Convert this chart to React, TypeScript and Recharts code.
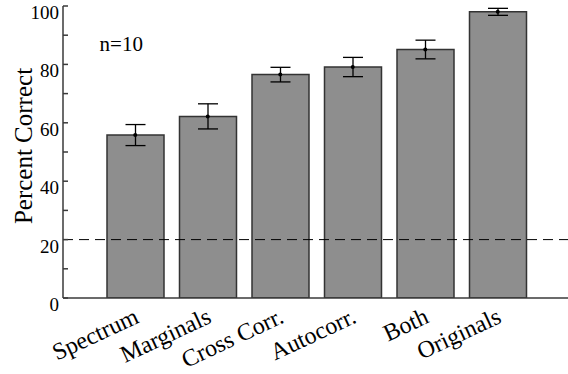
import React from 'react';
import { ComposedChart, Bar, XAxis, YAxis, ErrorBar, ReferenceLine, ReferenceDot, Line, Label } from 'recharts';

const categories = ['Spectrum', 'Marginals', 'Cross Corr.', 'Autocorr.', 'Both', 'Originals'];
const percentCorrect = [55.8, 62.2, 76.5, 79.1, 85.1, 98.0];
const stdError = [3.6, 4.3, 2.5, 3.3, 3.2, 1.2];
const yTicks = [0, 10, 20, 30, 40, 50, 60, 70, 80, 90, 100];
const yLabelEvery = 20;
const chanceLevel = 20;
const sampleNote = 'n=10';
const yTitle = 'Percent Correct';

const data = categories.map((name, i) => ({ name, value: percentCorrect[i], err: stdError[i] }));

const FONT = 'Liberation Serif';
const AXIS = '#3a3a3a';

const LeftTick = (props: any) => {
  const { x, y, payload } = props;
  const v = payload.value;
  return (
    <g>
      <line x1={x} x2={x + 5} y1={y} y2={y} stroke={AXIS} strokeWidth={1.5} />
      {v % yLabelEvery === 0 && (
        <text x={x - 4} y={y + 13} textAnchor="end" fontFamily={FONT} fontSize={19} fill="#000">
          {v}
        </text>
      )}
    </g>
  );
};

const RightTick = (props: any) => {
  const { x, y } = props;
  return <line x1={x - 5} x2={x} y1={y} y2={y} stroke={AXIS} strokeWidth={1.5} />;
};

const TopTick = (props: any) => {
  const { x, y } = props;
  return <line x1={x} x2={x} y1={y} y2={y + 5} stroke={AXIS} strokeWidth={1.5} />;
};

const BottomTick = (props: any) => {
  const { x, y, payload } = props;
  const ax = x + 5;
  const ay = y + 24;
  return (
    <text
      x={ax}
      y={ay}
      textAnchor="end"
      fontFamily={FONT}
      fontSize={24}
      fill="#000"
      transform={`rotate(-25 ${ax} ${ay})`}
    >
      {payload.value}
    </text>
  );
};

const YTitle = (props: any) => {
  const { viewBox } = props;
  const cx = 24;
  const cy = viewBox.y + viewBox.height / 2 - 6;
  return (
    <text
      x={cx}
      y={cy + 8}
      textAnchor="middle"
      fontFamily={FONT}
      fontSize={25}
      fill="#000"
      transform={`rotate(-90 ${cx} ${cy})`}
    >
      {yTitle}
    </text>
  );
};

const NoteShape = (props: any) => {
  const { cx, cy } = props;
  return (
    <text x={cx - 14} y={cy + 7} textAnchor="middle" fontFamily={FONT} fontSize={21} fill="#000">
      {sampleNote}
    </text>
  );
};

export default function App() {
  return (
    <div style={{ position: 'absolute', left: 0, top: 0, width: 568, height: 374, overflow: 'hidden', background: '#fff', fontFamily: FONT }}>
      <ComposedChart
        width={580}
        height={374}
        data={data}
        margin={{ top: 6, right: 10, bottom: 0, left: 0 }}
        style={{ fontFamily: FONT }}
      >
        <XAxis
          dataKey="name"
          type="category"
          height={76}
          padding={{ left: 36, right: 36 }}
          axisLine={{ stroke: AXIS, strokeWidth: 1.5 }}
          tickLine={false}
          tickSize={0}
          tickMargin={0}
          tick={<BottomTick />}
          interval={0}
        />
        <XAxis
          xAxisId="top"
          dataKey="name"
          type="category"
          orientation="top"
          height={0}
          padding={{ left: 36, right: 36 }}
          axisLine={{ stroke: AXIS, strokeWidth: 1.5 }}
          tickLine={false}
          tickSize={0}
          tickMargin={0}
          tick={<TopTick />}
          interval={0}
        />
        <YAxis
          type="number"
          domain={[0, 100]}
          ticks={yTicks}
          interval={0}
          width={63}
          axisLine={{ stroke: AXIS, strokeWidth: 1.5 }}
          tickLine={false}
          tickSize={0}
          tickMargin={0}
          tick={<LeftTick />}
          allowDataOverflow
        >
          <Label content={<YTitle />} />
        </YAxis>
        <YAxis
          yAxisId="right"
          orientation="right"
          type="number"
          domain={[0, 100]}
          ticks={yTicks}
          interval={0}
          width={0}
          axisLine={{ stroke: AXIS, strokeWidth: 1.5 }}
          tickLine={false}
          tickSize={0}
          tickMargin={0}
          tick={<RightTick />}
          allowDataOverflow
        />
        <Bar
          dataKey="value"
          barSize={57}
          fill="#8e8e8e"
          stroke="#333"
          strokeWidth={1.5}
          isAnimationActive={false}
        >
          <ErrorBar dataKey="err" width={10} stroke="#000" strokeWidth={1.3} />
        </Bar>
        <Line
          xAxisId="top"
          yAxisId="right"
          dataKey="value"
          stroke="none"
          strokeWidth={0}
          dot={{ r: 2, fill: '#000', stroke: 'none' }}
          activeDot={false}
          isAnimationActive={false}
        />
        <ReferenceLine y={chanceLevel} stroke="#000" strokeWidth={1} strokeDasharray="10 6" />
        <ReferenceDot x={categories[0]} y={87} r={0} shape={<NoteShape />} />
      </ComposedChart>
    </div>
  );
}
